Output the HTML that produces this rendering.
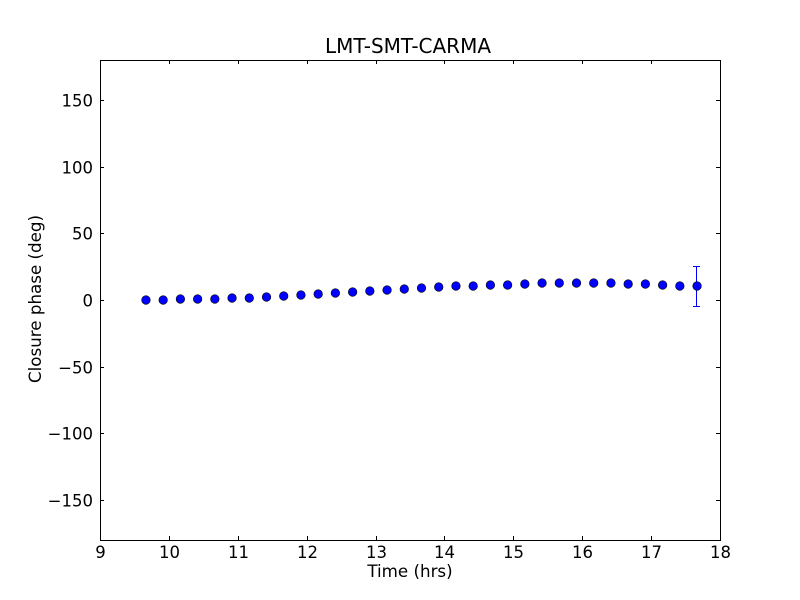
<!DOCTYPE html>
<html><head><meta charset="utf-8"><style>body{margin:0;background:#fff}svg{display:block}text{font-family:"DejaVu Sans","Liberation Sans",sans-serif;fill:#000}</style></head><body>
<svg width="800" height="600" xmlns="http://www.w3.org/2000/svg">
<rect width="800" height="600" fill="#fff"/>
<text x="408" y="53" font-size="20" text-anchor="middle">LMT-SMT-CARMA</text>
<g id="pts"></g>
<rect x="100.5" y="60.5" width="620" height="480" fill="none" stroke="#000" stroke-width="1"/>
<g stroke="#000" stroke-width="1" id="ticks"></g>
<g font-size="16.5" id="lbl"></g>
<text x="410" y="577" font-size="16.7" text-anchor="middle">Time (hrs)</text>
<text transform="translate(41,299) rotate(-90)" font-size="16.7" text-anchor="middle">Closure phase (deg)</text>
<script>
var ns="http://www.w3.org/2000/svg";
function el(p,t,a,txt){var e=document.createElementNS(ns,t);for(var k in a)e.setAttribute(k,a[k]);if(txt)e.textContent=txt;document.getElementById(p).appendChild(e);}
for(var h=9;h<=18;h++){var x=100+(h-9)*620/9;x=Math.round(x)+0.5;
el("ticks","line",{x1:x,x2:x,y1:540,y2:536});el("ticks","line",{x1:x,x2:x,y1:60,y2:64});
el("lbl","text",{x:x,y:558,"text-anchor":"middle"},""+h);}
for(var v=-150;v<=150;v+=50){var y=300-v*480/360;y=Math.round(y)+0.5;
el("ticks","line",{x1:100,x2:104,y1:y,y2:y});el("ticks","line",{x1:720,x2:716,y1:y,y2:y});
el("lbl","text",{x:93,y:y+6,"text-anchor":"end"},(v<0?"\u2212":"")+Math.abs(v));}
var ys=[300,300,299,299,299,298,298,297,296,295,294,293,292,291,290,289,288,287,286,286,285,285,284,283,283,283,283,283,284,284,285,286,286];
el("pts","line",{x1:696.5,x2:696.5,y1:266,y2:306,stroke:"#0000ff","stroke-width":1});
el("pts","line",{x1:693,x2:700,y1:266.5,y2:266.5,stroke:"#0000ff","stroke-width":1});
el("pts","line",{x1:693,x2:700,y1:306.5,y2:306.5,stroke:"#0000ff","stroke-width":1});
for(var i=0;i<33;i++){var x=100+(9.667+0.25*i-9)*620/9;el("pts","circle",{cx:x,cy:ys[i],r:4.3,fill:"#0000ff",stroke:"#000","stroke-width":0.6});}
</script>
</svg></body></html>
